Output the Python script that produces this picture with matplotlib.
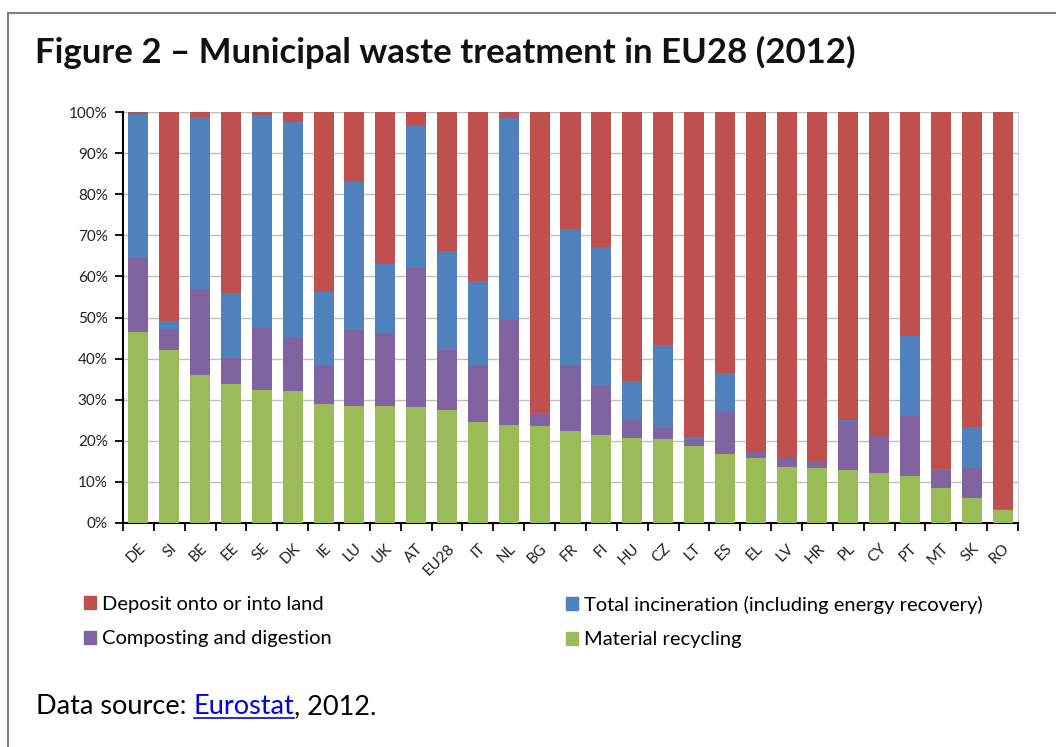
import numpy as np
import matplotlib
matplotlib.use("Agg")
import matplotlib.pyplot as plt
from matplotlib.lines import Line2D
from matplotlib.patches import Patch

plt.rcParams['font.family'] = ['Lato', 'DejaVu Sans']

### data (% of municipal waste treated, 2012)
countries = ['DE', 'SI', 'BE', 'EE', 'SE', 'DK', 'IE', 'LU', 'UK', 'AT', 'EU28', 'IT', 'NL', 'BG', 'FR',
             'FI', 'HU', 'CZ', 'LT', 'ES', 'EL', 'LV', 'HR', 'PL', 'CY', 'PT', 'MT', 'SK', 'RO']
recycling = [46.5, 42.2, 36.0, 33.8, 32.3, 32.0, 28.9, 28.4, 28.4, 28.2, 27.4, 24.5, 23.8, 23.7, 22.5,
             21.5, 20.8, 20.5, 18.7, 16.8, 15.7, 13.6, 13.4, 13.0, 12.2, 11.4, 8.5, 6.1, 3.1]
composting = [18.0, 5.1, 20.9, 6.3, 15.1, 13.3, 9.5, 18.5, 17.8, 33.8, 14.8, 14.0, 25.7, 2.8, 16.0,
              11.8, 4.5, 2.6, 1.6, 10.4, 1.7, 2.1, 1.6, 11.5, 8.9, 14.6, 4.5, 7.3, 0.1]
incineration = [35.1, 1.8, 42.0, 15.9, 51.8, 52.2, 17.8, 36.0, 16.8, 34.7, 24.1, 20.3, 49.0, 0.3, 33.0,
                33.8, 9.2, 20.3, 0.6, 9.3, 0.2, 0.1, 0.2, 0.5, 0.0, 19.6, 0.2, 9.9, 0.2]
landfill = [0.4, 50.9, 1.1, 44.0, 0.8, 2.5, 43.8, 17.1, 37.0, 3.3, 33.7, 41.2, 1.5, 73.2, 28.5,
            32.9, 65.5, 56.6, 79.1, 63.5, 82.4, 84.2, 84.8, 75.0, 78.9, 54.4, 86.8, 76.7, 96.6]

series_names = ['Deposit onto or into land', 'Total incineration (including energy recovery)',
                'Composting and digestion', 'Material recycling']
colors = {'land': '#C0504D', 'inc': '#4F81BD', 'comp': '#8064A2', 'rec': '#9BBB59'}

### figure
W, H = 1056, 747
fig = plt.figure(figsize=(W / 100, H / 100), dpi=100)

# frame (top and left edges are visible in the page crop)
fig.add_artist(Line2D([8 / W, 1], [1 - 13 / H, 1 - 13 / H], color='#808080', lw=1.5))
fig.add_artist(Line2D([8 / W, 8 / W], [0, 1 - 13 / H], color='#808080', lw=1.5))

fig.text(35 / W, 1 - 52 / H, 'Figure 2 \u2013 Municipal waste treatment in EU28 (2012)',
         fontsize=25, fontweight='bold', va='center', ha='left', color='#111111')

ax = fig.add_axes([123 / W, 1 - 523 / H, 895 / W, 411 / H])

x = np.arange(len(countries))
rec = np.array(recycling)
comp = np.array(composting)
inc = np.array(incineration)
land = np.array(landfill)
bw = 0.65
ax.bar(x, rec, bw, color=colors['rec'], zorder=3)
ax.bar(x, comp, bw, bottom=rec, color=colors['comp'], zorder=3)
ax.bar(x, inc, bw, bottom=rec + comp, color=colors['inc'], zorder=3)
ax.bar(x, land, bw, bottom=rec + comp + inc, color=colors['land'], zorder=3)

ax.set_xlim(-0.5, len(countries) - 0.5)
ax.set_ylim(0, 100)
ax.set_yticks(np.arange(0, 101, 10))
ax.set_yticklabels([f'{v}%' for v in range(0, 101, 10)], fontsize=11, color='#222222')
ax.yaxis.grid(True, color='#bfbfbf', lw=1, zorder=0)

ax.set_xticks(x)
ax.set_xticklabels(countries, rotation=45, ha='right', rotation_mode='anchor',
                   fontsize=11, color='#222222')
ax.set_xticks(np.arange(-0.5, len(countries)), minor=True)
ax.tick_params(axis='x', which='major', length=0, pad=13)
ax.tick_params(axis='x', which='minor', length=6, width=1.3, direction='out')
ax.tick_params(axis='y', length=6, width=1.3, direction='out', pad=5)

for s in ['left', 'bottom']:
    ax.spines[s].set_linewidth(1.5)
ax.spines['top'].set_visible(False)
ax.spines['right'].set_color('#d0d0d0')

### legend (two separate columns)
h_land = Patch(color=colors['land'])
h_inc = Patch(color=colors['inc'])
h_comp = Patch(color=colors['comp'])
h_rec = Patch(color=colors['rec'])
kw = dict(frameon=False, fontsize=14.5, handlelength=0.62, handleheight=0.62, handletextpad=0.25,
          labelspacing=0.85, loc='upper left', borderaxespad=0, borderpad=0)
fig.legend([h_land, h_comp], [series_names[0], series_names[2]],
           bbox_to_anchor=(84 / W, 1 - 596 / H), **kw)
fig.legend([h_inc, h_rec], [series_names[1], series_names[3]],
           bbox_to_anchor=(566 / W, 1 - 596 / H), **kw)

### source line
fs = 19.5
y_src = 1 - 707 / H
t1 = fig.text(36 / W, y_src, 'Data source: ', fontsize=fs, va='center', ha='left')
fig.canvas.draw()
r = fig.canvas.get_renderer()
bb1 = t1.get_window_extent(r)
t2 = fig.text(bb1.x1 / W, y_src, 'Eurostat', fontsize=fs, va='center', ha='left', color='#0000EE')
bb2 = t2.get_window_extent(r)
fig.add_artist(Line2D([bb2.x0 / W, bb2.x1 / W], [bb2.y0 / H + 2 / H, bb2.y0 / H + 2 / H],
                      color='#0000EE', lw=1.2))
fig.text(bb2.x1 / W, y_src, ', 2012.', fontsize=fs, va='center', ha='left')

fig.savefig('out.png', dpi=100)
